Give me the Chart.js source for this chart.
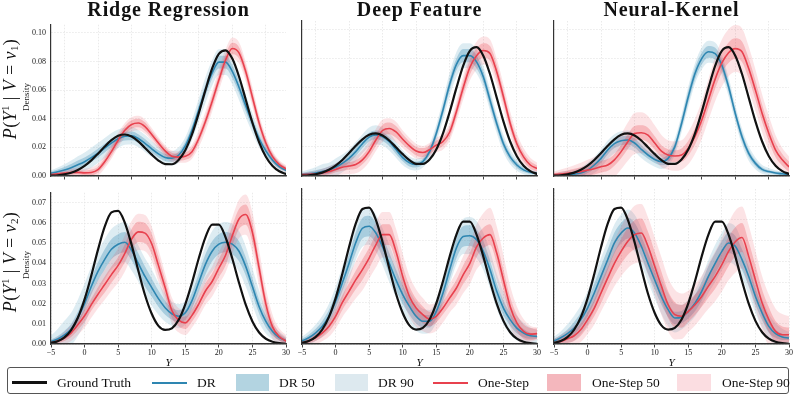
<!DOCTYPE html>
<html><head><meta charset="utf-8">
<script src="https://cdn.jsdelivr.net/npm/chart.js@4.4.1/dist/chart.umd.min.js"></script>
<style>
html,body{margin:0;padding:0;background:#fff;}
body{width:793px;height:396px;position:relative;overflow:hidden;font-family:'Liberation Serif','DejaVu Serif',serif;color:#111;}
canvas{position:absolute;}
.ttl{position:absolute;top:-1px;font-weight:bold;font-size:20px;line-height:20px;letter-spacing:0.9px;white-space:nowrap;transform:translateX(-50%);}
.ylab{position:absolute;font-size:18px;line-height:14px;letter-spacing:0.4px;white-space:nowrap;transform:translate(-50%,-50%) rotate(-90deg);}
.ylab .sp,.ylab .sb{font-size:11px;position:relative;line-height:0;}
.ylab .sp{top:-7px;}
.ylab .sb{top:2px;}
.dens{position:absolute;font-size:9px;line-height:9px;white-space:nowrap;transform:translate(-50%,-50%) rotate(-90deg);color:#222;}
.xlab{position:absolute;top:356px;font-size:11px;font-style:italic;transform:translateX(-50%);}
#leg{position:absolute;left:7px;top:367px;width:782px;height:27px;border:1.3px solid #555;border-radius:3px;box-sizing:border-box;}
.li{position:absolute;}
.lt{position:absolute;top:374px;font-size:13.5px;line-height:17px;white-space:nowrap;}
</style></head><body>
<script>
// ---------- grids & ticks ----------
const xTop = [-7,-6,-5,-4,-3,-2,-1,0,1,2,3,4,5,6,7,8,9,10,11,12,13,14,15,16,17,18,19,20,21,22,23,24,25,26,27,28];
const xBot = [-5,-4,-3,-2,-1,0,1,2,3,4,5,6,7,8,9,10,11,12,13,14,15,16,17,18,19,20,21,22,23,24,25,26,27,28,29,30];
const xTickValsTop = [-5,0,5,10,15,20,25];
const xTickValsBot = [-5,0,5,10,15,20,25,30];
const xTickLabelsBot = ['\u22125','0','5','10','15','20','25','30'];
const yTickValsTop = [0,0.02,0.04,0.06,0.08,0.10];
const yTickLabelsTop = ['0.00','0.02','0.04','0.06','0.08','0.10'];
const yTickValsBot = [0,0.01,0.02,0.03,0.04,0.05,0.06,0.07];
const yTickLabelsBot = ['0.00','0.01','0.02','0.03','0.04','0.05','0.06','0.07'];
const methodTitles = ['Ridge Regression','Deep Feature','Neural-Kernel'];
const legendLabels = ['Ground Truth','DR','DR 50','DR 90','One-Step','One-Step 50','One-Step 90'];

// ---------- ground truth ----------
const gtTop = [0.0002,0.0005,0.0012,0.0023,0.0042,0.0070,0.0109,0.0156,0.0206,0.0250,0.0281,0.0290,0.0276,0.0242,0.0196,0.0149,0.0108,0.0083,0.0082,0.0112,0.0180,0.0290,0.0437,0.0600,0.0751,0.0853,0.0878,0.0820,0.0695,0.0534,0.0372,0.0235,0.0135,0.0070,0.0033,0.0014];
const gtBot = [0.0006,0.0014,0.0033,0.0069,0.0130,0.0221,0.0339,0.0468,0.0582,0.0653,0.0660,0.0601,0.0493,0.0365,0.0243,0.0150,0.0090,0.0070,0.0078,0.0119,0.0197,0.0304,0.0424,0.0529,0.0592,0.0592,0.0529,0.0424,0.0304,0.0195,0.0112,0.0057,0.0026,0.0011,0.0004,0.0001];

// ---------- medians ----------
const drRidgeTop = [0.0020,0.0030,0.0042,0.0058,0.0078,0.0100,0.0128,0.0160,0.0195,0.0230,0.0260,0.0278,0.0280,0.0262,0.0228,0.0190,0.0155,0.0130,0.0124,0.0145,0.0210,0.0320,0.0460,0.0600,0.0720,0.0795,0.0795,0.0730,0.0620,0.0490,0.0370,0.0260,0.0175,0.0110,0.0065,0.0040];
const osRidgeTop = [0.0010,0.0015,0.0020,0.0024,0.0025,0.0022,0.0025,0.0045,0.0100,0.0170,0.0250,0.0320,0.0360,0.0370,0.0345,0.0290,0.0230,0.0175,0.0138,0.0132,0.0138,0.0170,0.0260,0.0380,0.0520,0.0670,0.0810,0.0890,0.0860,0.0730,0.0550,0.0370,0.0230,0.0135,0.0080,0.0050];
const drDeepTop = [0.0010,0.0015,0.0020,0.0030,0.0040,0.0060,0.0086,0.0120,0.0166,0.0220,0.0265,0.0280,0.0268,0.0234,0.0180,0.0125,0.0090,0.0078,0.0098,0.0166,0.0290,0.0450,0.0625,0.0760,0.0820,0.0820,0.0778,0.0676,0.0517,0.0358,0.0220,0.0130,0.0075,0.0042,0.0025,0.0018];
const osDeepTop = [0.0010,0.0012,0.0014,0.0020,0.0030,0.0045,0.0060,0.0068,0.0078,0.0110,0.0166,0.0245,0.0310,0.0324,0.0300,0.0250,0.0205,0.0170,0.0160,0.0180,0.0210,0.0235,0.0300,0.0440,0.0600,0.0740,0.0820,0.0855,0.0835,0.0710,0.0540,0.0360,0.0220,0.0130,0.0075,0.0052];
const drKernelTop = [0.0005,0.0008,0.0010,0.0013,0.0020,0.0040,0.0075,0.0120,0.0177,0.0220,0.0240,0.0245,0.0225,0.0182,0.0143,0.0113,0.0098,0.0120,0.0200,0.0358,0.0540,0.0698,0.0800,0.0846,0.0834,0.0755,0.0608,0.0426,0.0268,0.0154,0.0086,0.0045,0.0030,0.0020,0.0015,0.0010];
const osKernelTop = [0.0010,0.0014,0.0018,0.0024,0.0030,0.0040,0.0050,0.0063,0.0075,0.0110,0.0166,0.0234,0.0290,0.0295,0.0279,0.0225,0.0170,0.0143,0.0136,0.0143,0.0190,0.0270,0.0380,0.0520,0.0660,0.0770,0.0840,0.0868,0.0846,0.0732,0.0585,0.0426,0.0290,0.0177,0.0110,0.0063];
const drRidgeBot = [0.0012,0.0025,0.0045,0.0075,0.0130,0.0200,0.0285,0.0360,0.0420,0.0470,0.0495,0.0505,0.0465,0.0400,0.0335,0.0280,0.0225,0.0180,0.0150,0.0138,0.0155,0.0215,0.0305,0.0395,0.0460,0.0495,0.0505,0.0495,0.0460,0.0385,0.0285,0.0185,0.0112,0.0062,0.0032,0.0016];
const osRidgeBot = [0.0006,0.0015,0.0030,0.0055,0.0095,0.0140,0.0195,0.0247,0.0295,0.0344,0.0390,0.0450,0.0520,0.0556,0.0550,0.0497,0.0390,0.0280,0.0166,0.0118,0.0105,0.0142,0.0198,0.0263,0.0310,0.0376,0.0440,0.0537,0.0620,0.0642,0.0553,0.0376,0.0198,0.0085,0.0037,0.0015];
const drDeepBot = [0.0015,0.0030,0.0053,0.0085,0.0134,0.0206,0.0295,0.0390,0.0490,0.0560,0.0570,0.0537,0.0470,0.0390,0.0310,0.0239,0.0182,0.0134,0.0110,0.0110,0.0158,0.0247,0.0360,0.0465,0.0520,0.0524,0.0505,0.0448,0.0360,0.0255,0.0174,0.0118,0.0077,0.0053,0.0040,0.0037];
const osDeepBot = [0.0005,0.0015,0.0030,0.0053,0.0085,0.0134,0.0200,0.0255,0.0310,0.0360,0.0416,0.0480,0.0529,0.0529,0.0448,0.0327,0.0230,0.0174,0.0142,0.0121,0.0134,0.0174,0.0223,0.0271,0.0335,0.0390,0.0470,0.0513,0.0529,0.0440,0.0310,0.0182,0.0102,0.0061,0.0048,0.0050];
const drKernelBot = [0.0015,0.0030,0.0050,0.0077,0.0118,0.0174,0.0247,0.0327,0.0408,0.0489,0.0537,0.0561,0.0537,0.0473,0.0390,0.0310,0.0230,0.0166,0.0126,0.0130,0.0158,0.0198,0.0255,0.0327,0.0390,0.0448,0.0489,0.0473,0.0408,0.0327,0.0230,0.0150,0.0085,0.0050,0.0034,0.0029];
const osKernelBot = [0.0005,0.0012,0.0025,0.0040,0.0070,0.0118,0.0174,0.0247,0.0320,0.0390,0.0448,0.0497,0.0529,0.0537,0.0473,0.0376,0.0280,0.0190,0.0142,0.0134,0.0158,0.0190,0.0230,0.0280,0.0327,0.0384,0.0448,0.0495,0.0515,0.0424,0.0310,0.0198,0.0118,0.0061,0.0045,0.0045];

// ---------- band half-widths (50% and 90% intervals) ----------
const drRidgeTopW50 = [0.001,0.0015,0.002,0.0025,0.003,0.003,0.003,0.003,0.003,0.003,0.003,0.003,0.003,0.003,0.003,0.0025,0.0025,0.0025,0.0025,0.0025,0.003,0.003,0.0035,0.004,0.004,0.0045,0.0045,0.0045,0.004,0.004,0.0035,0.003,0.0025,0.002,0.0015,0.001];
const drRidgeTopW90 = [0.002,0.003,0.004,0.005,0.006,0.0065,0.007,0.007,0.007,0.007,0.0065,0.006,0.006,0.006,0.006,0.0055,0.005,0.005,0.005,0.0055,0.006,0.007,0.008,0.009,0.009,0.009,0.009,0.009,0.009,0.008,0.007,0.006,0.005,0.004,0.003,0.002];
const osRidgeTopW50 = [0.0005,0.001,0.001,0.0015,0.0015,0.0015,0.002,0.002,0.0025,0.003,0.003,0.003,0.003,0.003,0.003,0.0025,0.0025,0.0025,0.0025,0.0025,0.0025,0.003,0.003,0.0035,0.004,0.004,0.004,0.004,0.004,0.004,0.004,0.0035,0.003,0.0025,0.002,0.0015];
const osRidgeTopW90 = [0.001,0.0015,0.002,0.003,0.003,0.003,0.0035,0.004,0.0045,0.005,0.005,0.005,0.005,0.005,0.005,0.0045,0.004,0.004,0.004,0.004,0.0045,0.005,0.006,0.007,0.007,0.0075,0.0075,0.0075,0.0075,0.007,0.007,0.006,0.005,0.004,0.003,0.0025];
const drDeepTopW50 = [0.001,0.0015,0.002,0.002,0.0025,0.0025,0.003,0.003,0.003,0.003,0.003,0.003,0.003,0.003,0.003,0.0025,0.0025,0.002,0.002,0.0025,0.003,0.0035,0.004,0.004,0.0045,0.0045,0.0045,0.004,0.004,0.0035,0.003,0.0025,0.002,0.0015,0.001,0.001];
const drDeepTopW90 = [0.002,0.003,0.004,0.005,0.005,0.006,0.006,0.006,0.0065,0.0065,0.0065,0.0065,0.006,0.006,0.0055,0.005,0.0045,0.004,0.004,0.005,0.006,0.007,0.008,0.0085,0.0085,0.0085,0.008,0.0075,0.007,0.0065,0.006,0.005,0.004,0.003,0.002,0.0015];
const osDeepTopW50 = [0.0005,0.001,0.001,0.0015,0.002,0.002,0.0025,0.0025,0.003,0.003,0.0035,0.004,0.004,0.004,0.004,0.0035,0.003,0.003,0.003,0.003,0.003,0.003,0.0035,0.004,0.0045,0.005,0.005,0.005,0.005,0.005,0.0045,0.004,0.0035,0.003,0.0025,0.002];
const osDeepTopW90 = [0.001,0.0015,0.002,0.003,0.0035,0.004,0.005,0.0055,0.006,0.0065,0.007,0.0075,0.0075,0.007,0.007,0.006,0.0055,0.005,0.0045,0.0045,0.005,0.0055,0.006,0.007,0.008,0.009,0.0095,0.0095,0.0095,0.009,0.0085,0.008,0.007,0.006,0.005,0.004];
const drKernelTopW50 = [0.0005,0.001,0.001,0.0015,0.002,0.002,0.0025,0.003,0.003,0.003,0.003,0.003,0.003,0.003,0.0025,0.0025,0.0025,0.003,0.003,0.0035,0.004,0.004,0.004,0.004,0.004,0.004,0.0035,0.003,0.003,0.0025,0.002,0.0015,0.001,0.001,0.001,0.0005];
const drKernelTopW90 = [0.001,0.002,0.0025,0.003,0.004,0.005,0.0055,0.006,0.0065,0.0065,0.0065,0.0065,0.006,0.006,0.0055,0.005,0.005,0.005,0.0055,0.006,0.007,0.007,0.0075,0.0075,0.0075,0.007,0.0065,0.006,0.0055,0.005,0.004,0.003,0.0025,0.002,0.0015,0.001];
const osKernelTopW50 = [0.001,0.0015,0.002,0.0025,0.003,0.0035,0.004,0.004,0.004,0.004,0.0045,0.005,0.005,0.005,0.005,0.0045,0.004,0.004,0.004,0.0045,0.005,0.0055,0.006,0.006,0.0065,0.0065,0.007,0.007,0.007,0.007,0.0065,0.006,0.0055,0.005,0.004,0.0035];
const osKernelTopW90 = [0.002,0.003,0.004,0.005,0.006,0.007,0.008,0.009,0.010,0.011,0.012,0.013,0.014,0.014,0.013,0.012,0.011,0.010,0.010,0.010,0.011,0.012,0.013,0.014,0.015,0.016,0.016,0.016,0.016,0.015,0.014,0.013,0.012,0.010,0.008,0.007];
const drRidgeBotW50 = [0.001,0.0015,0.002,0.0025,0.003,0.0035,0.004,0.0045,0.005,0.005,0.005,0.005,0.005,0.005,0.005,0.0045,0.004,0.0035,0.003,0.003,0.0035,0.004,0.0045,0.005,0.005,0.005,0.005,0.005,0.005,0.0045,0.004,0.0035,0.003,0.002,0.0015,0.001];
const drRidgeBotW90 = [0.003,0.005,0.007,0.008,0.009,0.010,0.010,0.010,0.010,0.010,0.010,0.010,0.010,0.009,0.009,0.009,0.008,0.007,0.006,0.006,0.006,0.007,0.008,0.009,0.010,0.010,0.010,0.010,0.010,0.010,0.009,0.008,0.006,0.004,0.003,0.002];
const osRidgeBotW50 = [0.0005,0.001,0.0015,0.002,0.0025,0.003,0.003,0.0035,0.004,0.004,0.004,0.0045,0.005,0.005,0.005,0.005,0.0045,0.004,0.0035,0.003,0.003,0.003,0.0035,0.004,0.004,0.0045,0.005,0.005,0.005,0.005,0.005,0.0045,0.004,0.003,0.002,0.0015];
const osRidgeBotW90 = [0.001,0.002,0.003,0.004,0.005,0.006,0.0065,0.007,0.0075,0.008,0.0085,0.009,0.009,0.009,0.009,0.0085,0.008,0.007,0.0065,0.006,0.006,0.006,0.0065,0.007,0.0075,0.008,0.0085,0.009,0.0095,0.010,0.010,0.009,0.008,0.006,0.004,0.003];
const drDeepBotW50 = [0.001,0.0015,0.002,0.0025,0.003,0.0035,0.004,0.0045,0.005,0.005,0.005,0.005,0.005,0.005,0.005,0.0045,0.004,0.0035,0.003,0.003,0.0035,0.004,0.0045,0.005,0.005,0.005,0.005,0.005,0.0045,0.004,0.0035,0.003,0.0025,0.002,0.0015,0.001];
const drDeepBotW90 = [0.002,0.003,0.004,0.005,0.006,0.007,0.008,0.008,0.0085,0.009,0.009,0.009,0.009,0.009,0.0085,0.008,0.0075,0.007,0.006,0.0055,0.0055,0.006,0.007,0.008,0.0085,0.009,0.009,0.009,0.009,0.0085,0.008,0.007,0.006,0.005,0.004,0.003];
const osDeepBotW50 = [0.0005,0.001,0.0015,0.002,0.0025,0.003,0.0035,0.004,0.0045,0.005,0.005,0.005,0.005,0.005,0.005,0.005,0.005,0.0045,0.004,0.0035,0.003,0.003,0.0035,0.004,0.0045,0.005,0.005,0.005,0.005,0.005,0.005,0.0045,0.004,0.0035,0.003,0.0025];
const osDeepBotW90 = [0.001,0.002,0.003,0.004,0.005,0.006,0.007,0.008,0.009,0.010,0.010,0.011,0.011,0.011,0.011,0.011,0.010,0.009,0.008,0.007,0.007,0.007,0.007,0.008,0.009,0.010,0.011,0.012,0.013,0.013,0.012,0.010,0.008,0.006,0.004,0.003];
const drKernelBotW50 = [0.001,0.0015,0.002,0.003,0.0035,0.004,0.0045,0.005,0.005,0.005,0.005,0.005,0.005,0.005,0.005,0.0045,0.004,0.0035,0.003,0.003,0.0035,0.004,0.0045,0.005,0.005,0.005,0.005,0.005,0.005,0.0045,0.004,0.0035,0.003,0.002,0.0015,0.001];
const drKernelBotW90 = [0.002,0.003,0.0045,0.006,0.007,0.008,0.0085,0.009,0.009,0.009,0.009,0.009,0.009,0.009,0.009,0.009,0.0085,0.008,0.007,0.006,0.006,0.0065,0.007,0.008,0.009,0.009,0.0095,0.0095,0.009,0.009,0.008,0.007,0.006,0.005,0.004,0.003];
const osKernelBotW50 = [0.001,0.0015,0.002,0.0025,0.003,0.0035,0.004,0.005,0.005,0.0055,0.006,0.0065,0.007,0.007,0.007,0.007,0.007,0.0065,0.006,0.0055,0.005,0.005,0.005,0.0055,0.006,0.0065,0.007,0.007,0.007,0.007,0.007,0.0065,0.006,0.005,0.004,0.0035];
const osKernelBotW90 = [0.002,0.003,0.004,0.005,0.006,0.007,0.008,0.009,0.010,0.011,0.012,0.013,0.014,0.014,0.014,0.014,0.014,0.013,0.012,0.011,0.010,0.010,0.010,0.011,0.012,0.013,0.014,0.015,0.015,0.015,0.014,0.013,0.012,0.011,0.010,0.009];

// ---------- styling ----------
const C_GT = '#111111', C_DR = '#2e86b1', C_OS = '#e8414e';
const C_DR90 = 'rgba(46,134,177,0.16)', C_DR50 = 'rgba(46,134,177,0.30)';
const C_OS90 = 'rgba(232,65,78,0.15)', C_OS50 = 'rgba(232,65,78,0.27)';
const SW = ['#b3d4e1','#dde9ef','#f4b7bd','#fbdde1'];
const colLeft = [51, 302, 554], rowTop = [21, 189], plotW = 235, plotH = 155;

const panels = [
  {row:0,col:0,x:xTop,gt:gtTop,dr:drRidgeTop,os:osRidgeTop,dr50:drRidgeTopW50,dr90:drRidgeTopW90,os50:osRidgeTopW50,os90:osRidgeTopW90},
  {row:0,col:1,x:xTop,gt:gtTop,dr:drDeepTop,os:osDeepTop,dr50:drDeepTopW50,dr90:drDeepTopW90,os50:osDeepTopW50,os90:osDeepTopW90},
  {row:0,col:2,x:xTop,gt:gtTop,dr:drKernelTop,os:osKernelTop,dr50:drKernelTopW50,dr90:drKernelTopW90,os50:osKernelTopW50,os90:osKernelTopW90},
  {row:1,col:0,x:xBot,gt:gtBot,dr:drRidgeBot,os:osRidgeBot,dr50:drRidgeBotW50,dr90:drRidgeBotW90,os50:osRidgeBotW50,os90:osRidgeBotW90},
  {row:1,col:1,x:xBot,gt:gtBot,dr:drDeepBot,os:osDeepBot,dr50:drDeepBotW50,dr90:drDeepBotW90,os50:osDeepBotW50,os90:osDeepBotW90},
  {row:1,col:2,x:xBot,gt:gtBot,dr:drKernelBot,os:osKernelBot,dr50:drKernelBotW50,dr90:drKernelBotW90,os50:osKernelBotW50,os90:osKernelBotW90}
];

const pts = (xs, ys) => xs.map((x, i) => ({x, y: ys[i]}));
const band = (xs, m, w, s) => xs.map((x, i) => ({x, y: Math.max(0, m[i] + s * (w[i] || 0))}));

function bandPair(xs, m, w, color, order) {
  const base = {pointRadius:0, borderWidth:0, borderColor:'transparent', cubicInterpolationMode:'monotone', order};
  return [
    Object.assign({}, base, {data: band(xs, m, w, 1), fill: '+1', backgroundColor: color}),
    Object.assign({}, base, {data: band(xs, m, w, -1), fill: false})
  ];
}
function lineDs(xs, ys, color, width, order) {
  return {data: pts(xs, ys), borderColor: color, borderWidth: width, pointRadius: 0, fill: false,
          cubicInterpolationMode: 'monotone', order, borderCapStyle: 'round', borderJoinStyle: 'round'};
}

const padL = 50, padR = 6, padT = 6, padB = 22;
const serif = 'Liberation Serif';

panels.forEach(p => {
  const bot = p.row === 1, first = p.col === 0;
  const W = plotW + padL + padR, H = plotH + padT + padB;
  const cv = document.createElement('canvas');
  cv.width = W; cv.height = H;
  cv.style.left = (colLeft[p.col] - padL) + 'px';
  cv.style.top = (rowTop[p.row] - padT) + 'px';
  cv.style.width = W + 'px'; cv.style.height = H + 'px';
  document.body.appendChild(cv);

  const datasets = [].concat(
    bandPair(p.x, p.dr, p.dr90, C_DR90, 9),
    bandPair(p.x, p.dr, p.dr50, C_DR50, 8),
    bandPair(p.x, p.os, p.os90, C_OS90, 7),
    bandPair(p.x, p.os, p.os50, C_OS50, 6),
    [lineDs(p.x, p.dr, C_DR, 1.6, 3), lineDs(p.x, p.os, C_OS, 1.6, 2), lineDs(p.x, p.gt, C_GT, 2.2, 1)]
  );
  const yVals = bot ? yTickValsBot : yTickValsTop;
  const yLabs = bot ? yTickLabelsBot : yTickLabelsTop;
  const xVals = bot ? xTickValsBot : xTickValsTop;

  new Chart(cv, {
    type: 'line',
    data: {datasets},
    options: {
      responsive: false, maintainAspectRatio: false, animation: false, devicePixelRatio: 1, events: [],
      layout: {padding: {top: padT, right: padR, left: 0, bottom: 0}},
      plugins: {legend: {display: false}, tooltip: {enabled: false}, title: {display: false}},
      scales: {
        x: {
          type: 'linear', min: bot ? -5 : -7, max: bot ? 30 : 28,
          afterBuildTicks: s => { s.ticks = xVals.map(v => ({value: v})); },
          afterFit: s => { s.height = padB; },
          ticks: {display: bot, autoSkip: false, maxRotation: 0, padding: 1, color: '#222',
                  font: {family: serif, size: 8}, callback: (v, i) => xTickLabelsBot[i]},
          grid: {color: '#e4e4e4', lineWidth: 0.8, tickLength: 3.5, tickColor: '#444', tickWidth: 1},
          border: {display: true, color: '#333', width: 1.5, dash: [1.5, 1.5], z: 1}
        },
        y: {
          type: 'linear', min: 0, max: bot ? 0.075 : 0.1056,
          afterBuildTicks: s => { s.ticks = yVals.map(v => ({value: v})); },
          afterFit: s => { s.width = padL; },
          ticks: {display: first, padding: 5, color: '#222', font: {family: serif, size: 8},
                  callback: (v, i) => yLabs[i]},
          grid: {color: '#e4e4e4', lineWidth: 0.8, drawTicks: false},
          border: {display: true, color: '#333', width: 1.2, dash: [1.5, 1.5], z: 1}
        }
      }
    }
  });
});

// ---------- text: titles, axis labels ----------
function addDiv(cls, html, style) {
  const d = document.createElement('div'); d.className = cls; d.innerHTML = html;
  Object.assign(d.style, style); document.body.appendChild(d); return d;
}
methodTitles.forEach((t, i) => addDiv('ttl', t, {left: (colLeft[i] + plotW / 2) + 'px'}));
addDiv('ylab', '<i>P</i>(<i>Y</i><span class="sp">1</span> | <i>V</i> = <i>v</i><span class="sb">1</span>)', {left: '10px', top: '89px'});
addDiv('ylab', '<i>P</i>(<i>Y</i><span class="sp">1</span> | <i>V</i> = <i>v</i><span class="sb">2</span>)', {left: '10px', top: '262px'});
addDiv('dens', 'Density', {left: '25.5px', top: '97px'});
addDiv('dens', 'Density', {left: '25.5px', top: '265px'});
[0, 1, 2].forEach(i => addDiv('xlab', 'Y', {left: (colLeft[i] + plotW / 2) + 'px'}));

// ---------- legend ----------
const leg = document.createElement('div'); leg.id = 'leg'; document.body.appendChild(leg);
const legendItems = [
  {type:'line', color: C_GT, w: 2.4, x0: 12, x1: 47, tx: 57},
  {type:'line', color: C_DR, w: 2, x0: 152, x1: 187, tx: 197},
  {type:'box', color: SW[0], x0: 236, x1: 269, tx: 279},
  {type:'box', color: SW[1], x0: 335, x1: 368, tx: 378},
  {type:'line', color: C_OS, w: 2, x0: 433, x1: 468, tx: 478},
  {type:'box', color: SW[2], x0: 547, x1: 581, tx: 592},
  {type:'box', color: SW[3], x0: 677, x1: 711, tx: 722}
];
legendItems.forEach((it, i) => {
  const d = document.createElement('div'); d.className = 'li';
  if (it.type === 'line') {
    Object.assign(d.style, {left: it.x0 + 'px', width: (it.x1 - it.x0) + 'px', top: (382.5 - it.w / 2) + 'px', height: it.w + 'px', background: it.color});
  } else {
    Object.assign(d.style, {left: it.x0 + 'px', width: (it.x1 - it.x0) + 'px', top: '374px', height: '17px', background: it.color});
  }
  document.body.appendChild(d);
  addDiv('lt', legendLabels[i], {left: it.tx + 'px'});
});
</script>
</body></html>
